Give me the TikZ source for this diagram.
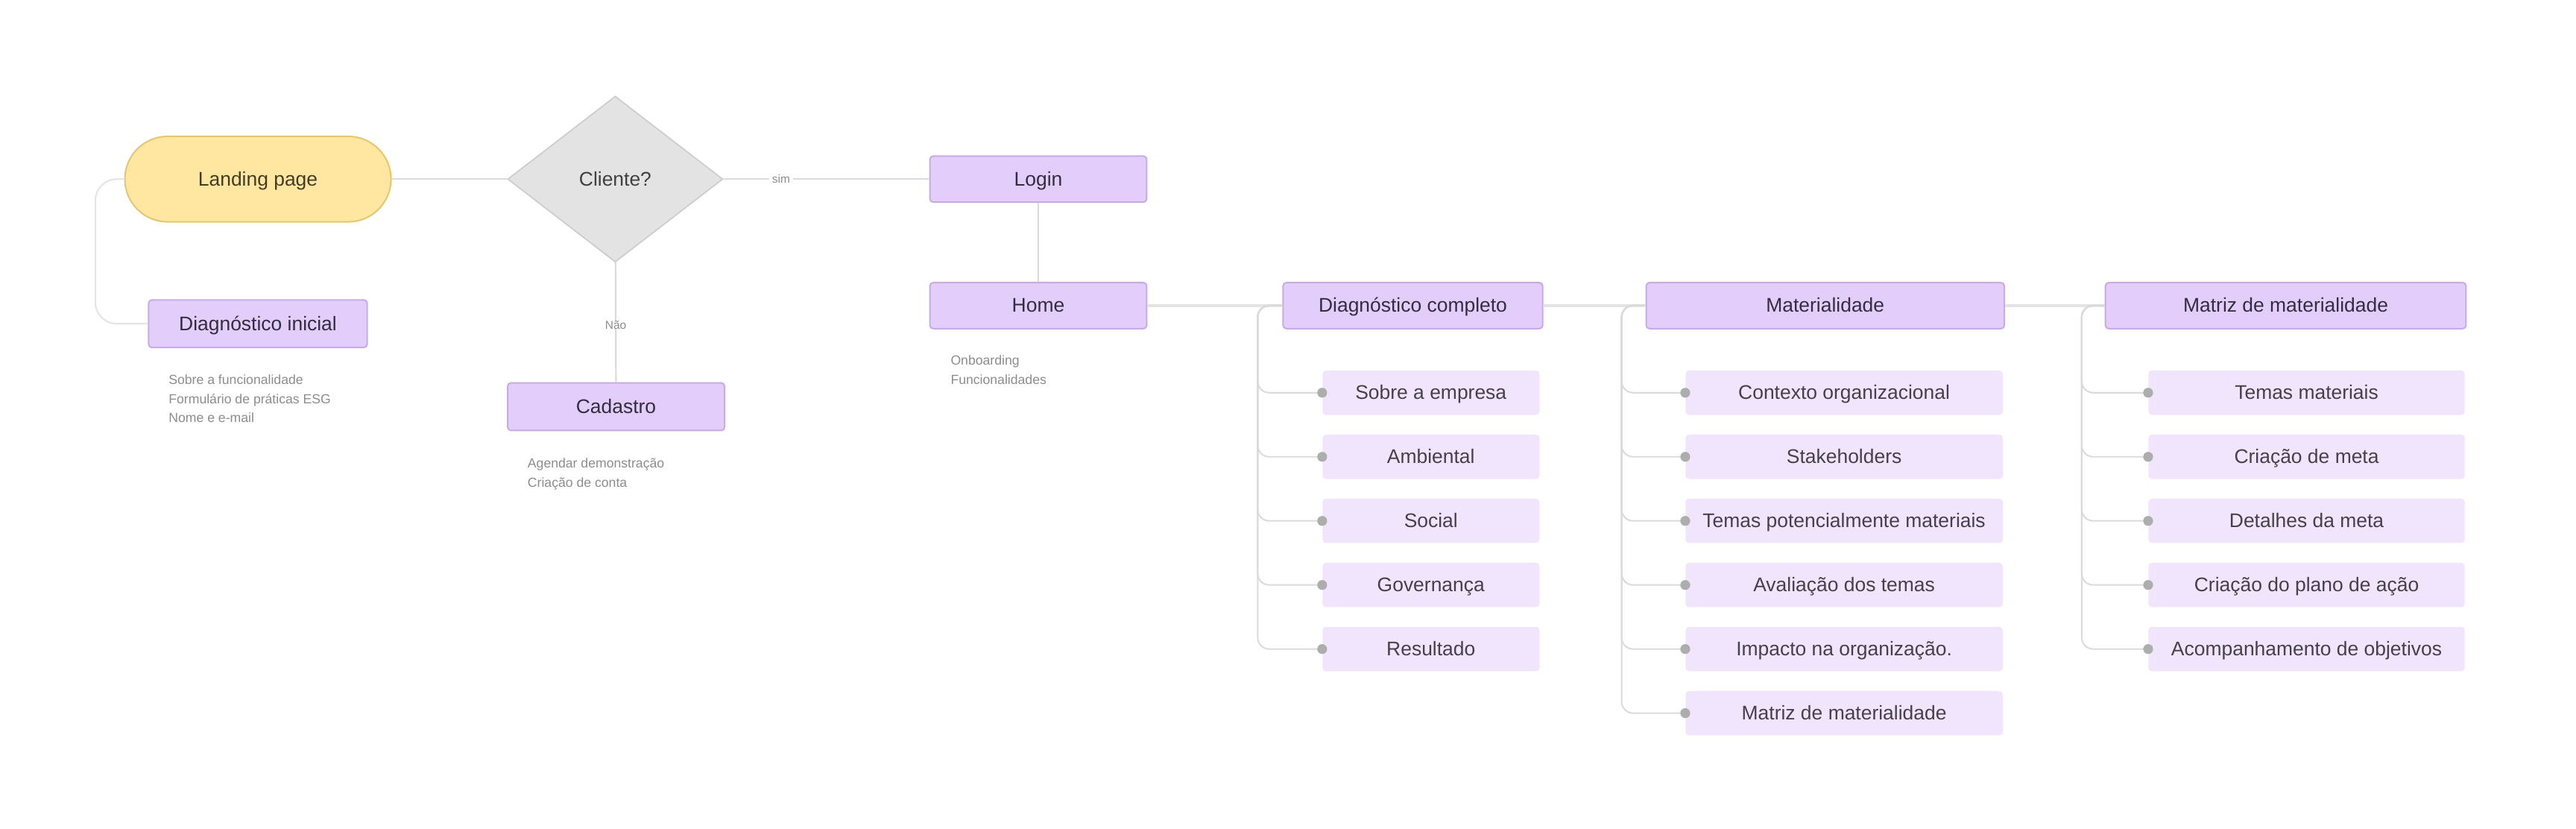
\documentclass[tikz,border=0pt]{standalone}
\usepackage{fontspec}
\setmainfont{Liberation Sans}
\usetikzlibrary{shapes.geometric}

\definecolor{boxfill}{HTML}{E3CDFB}
\definecolor{boxedge}{HTML}{C6ABE6}
\definecolor{subfill}{HTML}{F0E5FD}
\definecolor{lpfill}{HTML}{FFE7A1}
\definecolor{lpedge}{HTML}{E5C66E}
\definecolor{qfill}{HTML}{E3E3E3}
\definecolor{qedge}{HTML}{CDCDCD}
\definecolor{linec}{HTML}{DADADA}
\definecolor{busc}{HTML}{E4E4E4}
\definecolor{dotc}{HTML}{ADADAD}
\definecolor{textc}{HTML}{352C40}
\definecolor{subtext}{HTML}{45404A}
\definecolor{notec}{HTML}{8C8C8C}

\begin{document}
\begin{tikzpicture}[
			x=1pt, y=-1pt,
			every node/.style={inner sep=0pt, font=\fontsize{12}{14}\selectfont},
			boxtext/.style={text height=10pt, text depth=2pt},
			mainbox/.style={boxtext, draw=boxedge, fill=boxfill, line width=0.9pt, rounded corners=2pt,
					minimum height=28pt, text=textc},
			subbox/.style={boxtext, fill=subfill, rounded corners=2pt, minimum height=27pt, text=subtext},
			landing/.style={boxtext, draw=lpedge, fill=lpfill, line width=0.9pt, rounded corners=26pt,
					minimum width=162pt, minimum height=52pt, text=black!70!lpedge},
			question/.style={boxtext, diamond, draw=qedge, fill=qfill, line width=0.8pt,
					minimum width=131pt, minimum height=101pt, text=black!75},
			note/.style={anchor=north west, align=left, text=notec},
			lbl/.style={fill=white, inner xsep=2pt, text=notec, font=\fontsize{7}{8}\selectfont},
			link/.style={draw=linec, line width=1pt},
			bus/.style={draw=busc, line width=1.8pt},
			branch/.style={draw=linec, line width=0.9pt, rounded corners=7pt},
			dot/.style={fill=dotc}
		]
		\useasboundingbox (0,0) rectangle (1568,504.5);

		% left part
		\node[landing] (lp) at (157,109) {Landing page};
		\node[question] (cliente) at (374.5,109) {Cliente?};
		\node[mainbox, minimum width=133pt, minimum height=29pt] (diagini) at (157,197) {Diagnóstico inicial};
		\node[mainbox, minimum width=132pt, minimum height=29pt] (cadastro) at (375,247.5) {Cadastro};
		\node[mainbox, minimum width=132pt] (login) at (632,109) {Login};
		\node[mainbox, minimum width=132pt] (home) at (632,186) {Home};

		\node[note, font=\fontsize{8}{11.5}\selectfont] (diagini notes) at (102.5,228)
		{Sobre a funcionalidade\\Formulário de práticas ESG\\Nome e e-mail};
		\node[note, font=\fontsize{8}{12}\selectfont] (cadastro notes) at (321,278.5)
		{Agendar demonstração\\Criação de conta};
		\node[note, font=\fontsize{8}{11.7}\selectfont] (home notes) at (578.5,216)
		{Onboarding\\Funcionalidades};

		\draw[link] (lp) -- (cliente);
		\draw[link] (cliente) -- node[lbl, pos=0.28] {sim} (login);
		\draw[link] (cliente) -- node[lbl, pos=0.52] {Não} (cadastro);
		\draw[link] (login) -- (home);
		\draw[link, draw=linec!70, rounded corners=13pt] (lp.west) -- ++(-17.5,0) |- (diagini.west);

		% main row
		\node[mainbox, minimum width=158pt] (diagcomp) at (860,186) {Diagnóstico completo};
		\node[mainbox, minimum width=218pt] (mat) at (1111,186) {Materialidade};
		\node[mainbox, minimum width=219.5pt] (matriz) at (1391.3,186) {Matriz de materialidade};

		\draw[bus] (home) -- (diagcomp);
		\draw[bus] (diagcomp) -- (mat);
		\draw[bus] (mat) -- (matriz);

		% Diagnóstico completo
		\node[subbox, minimum width=132pt] (dc1) at (871,239) {Sobre a empresa};
		\node[subbox, minimum width=132pt] (dc2) at (871,278) {Ambiental};
		\node[subbox, minimum width=132pt] (dc3) at (871,317) {Social};
		\node[subbox, minimum width=132pt] (dc4) at (871,356) {Governança};
		\node[subbox, minimum width=132pt] (dc5) at (871,395) {Resultado};

		\draw[branch] (diagcomp.west) -- ++(-15,0) |- (dc1.west);
		\draw[branch] (diagcomp.west) -- ++(-15,0) |- (dc2.west);
		\draw[branch] (diagcomp.west) -- ++(-15,0) |- (dc3.west);
		\draw[branch] (diagcomp.west) -- ++(-15,0) |- (dc4.west);
		\draw[branch] (diagcomp.west) -- ++(-15,0) |- (dc5.west);
		\fill[dot] (dc1.west) circle (3) (dc2.west) circle (3) (dc3.west) circle (3)
		(dc4.west) circle (3) (dc5.west) circle (3);

		% Materialidade
		\node[subbox, minimum width=193pt] (m1) at (1122.5,239) {Contexto organizacional};
		\node[subbox, minimum width=193pt] (m2) at (1122.5,278) {Stakeholders};
		\node[subbox, minimum width=193pt] (m3) at (1122.5,317) {Temas potencialmente materiais};
		\node[subbox, minimum width=193pt] (m4) at (1122.5,356) {Avaliação dos temas};
		\node[subbox, minimum width=193pt] (m5) at (1122.5,395) {Impacto na organização.};
		\node[subbox, minimum width=193pt] (m6) at (1122.5,434) {Matriz de materialidade};

		\draw[branch] (mat.west) -- ++(-14.5,0) |- (m1.west);
		\draw[branch] (mat.west) -- ++(-14.5,0) |- (m2.west);
		\draw[branch] (mat.west) -- ++(-14.5,0) |- (m3.west);
		\draw[branch] (mat.west) -- ++(-14.5,0) |- (m4.west);
		\draw[branch] (mat.west) -- ++(-14.5,0) |- (m5.west);
		\draw[branch] (mat.west) -- ++(-14.5,0) |- (m6.west);
		\fill[dot] (m1.west) circle (3) (m2.west) circle (3) (m3.west) circle (3)
		(m4.west) circle (3) (m5.west) circle (3) (m6.west) circle (3);

		% Matriz de materialidade
		\node[subbox, minimum width=192.5pt] (mm1) at (1404,239) {Temas materiais};
		\node[subbox, minimum width=192.5pt] (mm2) at (1404,278) {Criação de meta};
		\node[subbox, minimum width=192.5pt] (mm3) at (1404,317) {Detalhes da meta};
		\node[subbox, minimum width=192.5pt] (mm4) at (1404,356) {Criação do plano de ação};
		\node[subbox, minimum width=192.5pt] (mm5) at (1404,395) {Acompanhamento de objetivos};

		\draw[branch] (matriz.west) -- ++(-14,0) |- (mm1.west);
		\draw[branch] (matriz.west) -- ++(-14,0) |- (mm2.west);
		\draw[branch] (matriz.west) -- ++(-14,0) |- (mm3.west);
		\draw[branch] (matriz.west) -- ++(-14,0) |- (mm4.west);
		\draw[branch] (matriz.west) -- ++(-14,0) |- (mm5.west);
		\fill[dot] (mm1.west) circle (3) (mm2.west) circle (3) (mm3.west) circle (3)
		(mm4.west) circle (3) (mm5.west) circle (3);
	\end{tikzpicture}
\end{document}
